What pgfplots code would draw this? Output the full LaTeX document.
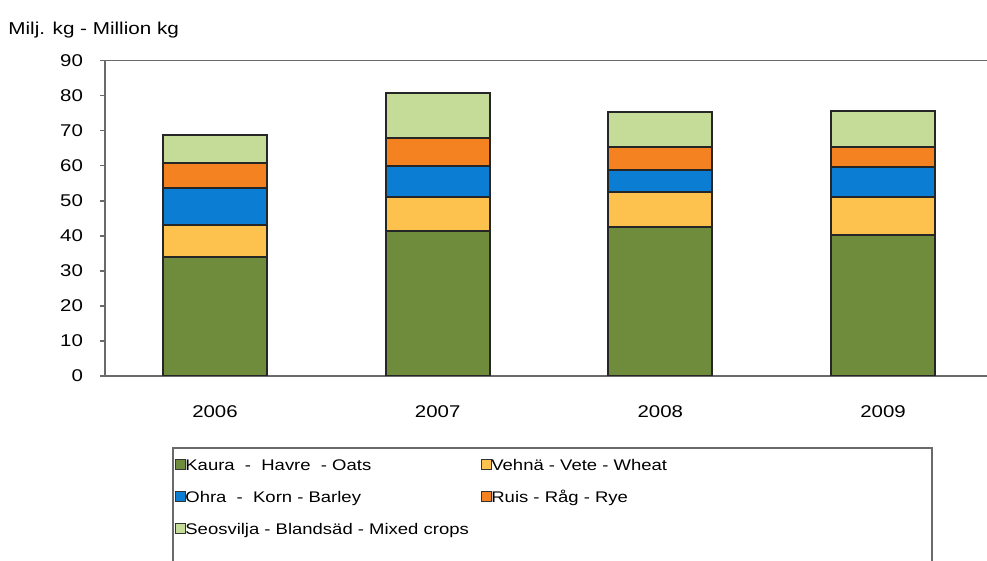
\documentclass[border=0pt]{standalone}
\usepackage{pgfplots}
\pgfplotsset{compat=1.18}
\usepackage{pgfplotstable}
\usetikzlibrary{calc}
\usepackage{fontspec}
\setmainfont{Liberation Sans}[FakeStretch=1.2]
\definecolor{cOats}{HTML}{6E8C3C}
\definecolor{cWheat}{HTML}{FDC24E}
\definecolor{cBarley}{HTML}{0B7DD2}
\definecolor{cRye}{HTML}{F58220}
\definecolor{cMixed}{HTML}{C4DC98}
\definecolor{axgray}{HTML}{6A6A6A}
\pgfplotstableread{
x oats wheat barley rye mixed
0 34.0 9.2 10.4 7.1 8.1
1 41.3 9.9 8.8 7.8 12.9
2 42.5 10.0 6.3 6.4 10.2
3 40.1 11.1 8.4 5.6 10.5
}\datatable
\begin{document}
\begin{tikzpicture}
\begin{axis}[
  scale only axis,
  width=441pt, height=157.75pt,
  xmin=-0.494, xmax=3.467,
  ymin=0, ymax=90,
  ybar stacked, bar width=52pt,
  axis x line*=box, axis y line*=left,
  axis line style={axgray, line width=0.8pt},
  xtick={0,1,2,3}, xticklabels={2006,2007,2008,2009},
  xtick style={draw=none},
  xticklabel style={yshift=-9pt, font=\fontsize{8.5}{10}\selectfont},
  ytick={0,10,...,90},
  ytick pos=left,
  tick align=outside,
  major tick length=2.5pt,
  ytick style={axgray, line width=0.8pt},
  yticklabel style={xshift=-5pt, font=\fontsize{8.5}{10}\selectfont},
  /pgf/number format/assume math mode=true,
  legend columns=2,
  legend cell align=left,
  legend style={at={(axis description cs:0,0)}, anchor=north west,
    xshift=35pt, yshift=-40.9pt, draw=none, fill=none, inner sep=0pt,
    font=\fontsize{7.7}{9.2}\selectfont,
    nodes={inner sep=0pt, text height=6pt, text depth=1.5pt},
    row sep=8.5pt,
    /tikz/every even column/.append style={column sep=1.5pt}},
  legend image code/.code={\draw[#1, draw=black!80, line width=0.4pt] (0pt,-1.7pt) rectangle (4.6pt,3pt);},
]
\addplot[fill=cOats, draw=black!85, line width=1pt] table[x=x, y=oats] {\datatable};
\addlegendentry{\makebox[146.5pt][l]{Kaura\ \ -\ \ Havre\ \ - Oats}}
\addplot[fill=cWheat, draw=black!85, line width=1pt] table[x=x, y=wheat] {\datatable};
\addlegendentry{Vehnä - Vete - Wheat}
\addplot[fill=cBarley, draw=black!85, line width=1pt] table[x=x, y=barley] {\datatable};
\addlegendentry{\makebox[146.5pt][l]{Ohra\ \ -\ \ Korn - Barley}}
\addplot[fill=cRye, draw=black!85, line width=1pt] table[x=x, y=rye] {\datatable};
\addlegendentry{Ruis - Råg - Rye}
\addplot[fill=cMixed, draw=black!85, line width=1pt] table[x=x, y=mixed] {\datatable};
\addlegendentry{\makebox[146.5pt][l]{Seosvilja - Blandsäd - Mixed crops}}
\coordinate (ll) at (rel axis cs:0,0);
\coordinate (ur) at (rel axis cs:1,1);
\end{axis}
\draw[axgray, line width=0.7pt] ($(ll)+(34pt,-36pt)$) rectangle ($(ll)+(413.5pt,-130pt)$);
\node[anchor=west, inner sep=0pt, font=\fontsize{8.6}{10}\selectfont] at ($(ll|-ur)+(-48.5pt,15.25pt)$) {Milj. kg - Million kg};
\pgfresetboundingbox
\path[use as bounding box] ($(ll)+(-52.5pt,-92.5pt)$) rectangle ($(ur)+(0,30.25pt)$);
\end{tikzpicture}
\end{document}
